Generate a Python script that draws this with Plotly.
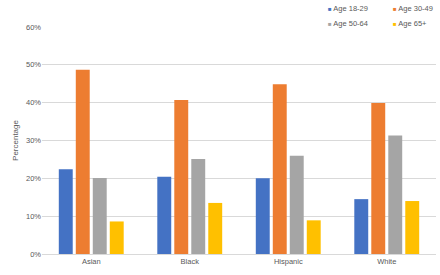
import plotly.graph_objects as go

categories = ["Asian", "Black", "Hispanic", "White"]
series_names = ["Age 18-29", "Age 30-49", "Age 50-64", "Age 65+"]
age_18_29 = [0.224, 0.204, 0.200, 0.145]
age_30_49 = [0.487, 0.407, 0.449, 0.399]
age_50_64 = [0.201, 0.251, 0.260, 0.313]
age_65_plus = [0.086, 0.135, 0.089, 0.140]
colors = ["#4472C4", "#ED7D31", "#A5A5A5", "#FFC000"]
y_ticks = [0, 0.1, 0.2, 0.3, 0.4, 0.5, 0.6]

series_values = [age_18_29, age_30_49, age_50_64, age_65_plus]
font_family = "Liberation Sans, Arial, sans-serif"
text_color = "#595959"

fig = go.Figure()
for name, vals, col in zip(series_names, series_values, colors):
    fig.add_trace(go.Bar(x=categories, y=vals, name=name, marker_color=col,
                         marker_line_width=0, showlegend=False, hoverinfo="skip"))

# legend as annotations (2 x 2 grid at top-right)
legend_pos = [(0.72, 1.082), (0.885, 1.082), (0.72, 1.015), (0.885, 1.015)]
for (lx, ly), name, col in zip(legend_pos, series_names, colors):
    fig.add_annotation(
        xref="paper", yref="paper", x=lx, y=ly, xanchor="left", yanchor="middle",
        showarrow=False,
        text=f'<span style="font-size:6px;color:{col}">■</span> {name}',
        font=dict(family=font_family, size=7.5, color=text_color),
    )

fig.update_layout(
    width=440, height=275,
    margin=dict(l=42, r=4, t=27, b=21, autoexpand=False),
    paper_bgcolor="white", plot_bgcolor="white",
    barmode="group", bargap=0.31, bargroupgap=0.18,
    font=dict(family=font_family, size=7.5, color=text_color),
    hovermode=False,
)
fig.update_xaxes(showgrid=False, showline=True, linecolor="#D9D9D9", linewidth=1,
                 ticks="", automargin=False, tickfont=dict(size=7.5, color=text_color))
fig.update_yaxes(range=[0, 0.6], tickvals=y_ticks, tickformat=".0%",
                 showgrid=True, gridcolor="#D9D9D9", gridwidth=1, zeroline=False,
                 showline=False, ticks="", ticklen=0, automargin=False,
                 tickfont=dict(size=7.5, color=text_color),
                 title=dict(text="Percentage", font=dict(size=8, color=text_color), standoff=6))

fig.write_html("out.html", config={"displayModeBar": False},
               post_script="document.body.style.margin='0';")
